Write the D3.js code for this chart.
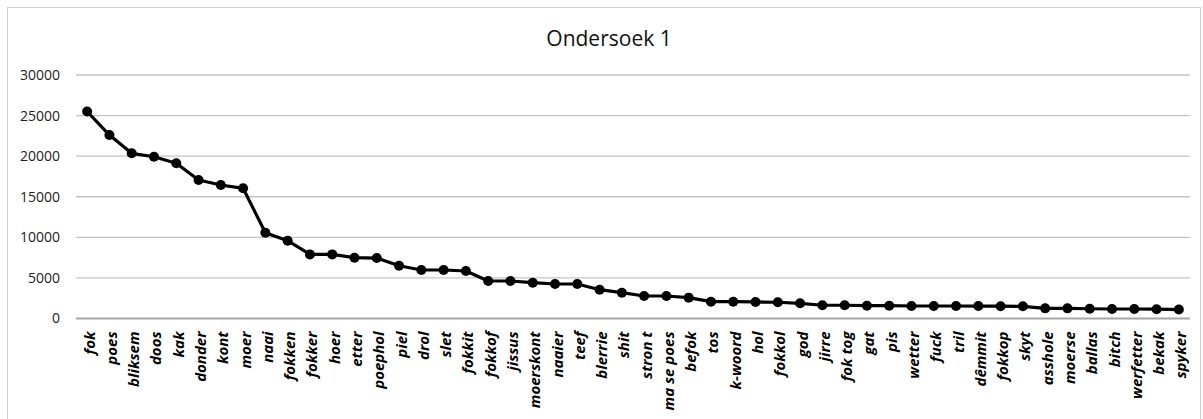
<!DOCTYPE html>
<html>
<head>
<meta charset="utf-8">
<script src="https://cdn.jsdelivr.net/npm/d3@7"></script>
<style>
  html, body { margin: 0; padding: 0; background: #fff; }
  svg { display: block; }
</style>
</head>
<body>
<svg id="chart" width="1203" height="419"></svg>
<script>
// Word frequencies, Ondersoek 1
const categories = ["fok","poes","bliksem","doos","kak","donder","kont","moer","naai","fokken",
  "fokker","hoer","etter","poephol","piel","drol","slet","fokkit","fokkof","jissus",
  "moerskont","naaier","teef","blerrie","shit","stron t","ma se poes","befok","tos","k-woord",
  "hol","fokkol","god","jirre","fok tog","gat","pis","wetter","fuck","tril",
  "dêmmit","fokkop","skyt","asshole","moerse","ballas","bitch","werfetter","bekak","spyker"];
const values = [25500,22600,20350,19930,19120,17060,16450,16040,10570,9590,
  7900,7900,7490,7450,6500,5975,5975,5850,4620,4620,
  4410,4250,4250,3550,3180,2770,2770,2570,2070,2070,
  2040,2000,1870,1630,1630,1580,1580,1540,1540,1540,
  1530,1520,1500,1250,1250,1200,1170,1170,1150,1100];
const yTicks = [0,5000,10000,15000,20000,25000,30000];
const title = "Ondersoek 1";

const svg = d3.select("#chart");
const W = 1203, H = 419;
const margin = {left: 76, right: 13, top: 75, bottom: 100.5};

// chart frame
svg.append("rect")
  .attr("x", 7.5).attr("y", 7.5)
  .attr("width", 1193).attr("height", 420)
  .attr("fill", "#fff").attr("stroke", "#d0d0d0").attr("stroke-width", 1);

const x = d3.scaleBand()
  .domain(categories)
  .range([margin.left, W - margin.right])
  .padding(0);

const y = d3.scaleLinear()
  .domain([0, 30000])
  .range([H - margin.bottom, margin.top]);

// gridlines
svg.append("g")
  .selectAll("line")
  .data(yTicks)
  .join("line")
  .attr("x1", margin.left).attr("x2", W - margin.right)
  .attr("y1", d => y(d)).attr("y2", d => y(d))
  .attr("stroke", d => d === 0 ? "#a6a6a6" : "#c4c4c4")
  .attr("stroke-width", d => d === 0 ? 2 : 1.3);

// y axis labels
const yAxis = d3.axisLeft(y).tickValues(yTicks).tickSize(0).tickPadding(16).tickFormat(d3.format("d"));
svg.append("g")
  .attr("transform", `translate(${margin.left},0)`)
  .call(yAxis)
  .call(g => g.select(".domain").remove())
  .call(g => g.selectAll("text")
    .attr("font-family", "'Open Sans', sans-serif")
    .attr("font-size", 14)
    .attr("fill", "#222"));

// x axis labels (rotated)
const xAxis = d3.axisBottom(x).tickSize(0).tickPadding(0);
svg.append("g")
  .attr("transform", `translate(0,${y(0)})`)
  .call(xAxis)
  .call(g => g.select(".domain").remove())
  .call(g => g.selectAll("text")
    .attr("font-family", "'Open Sans', sans-serif")
    .attr("font-size", 15)
    .attr("font-style", "italic")
    .attr("font-weight", "bold")
    .attr("fill", "#000")
    .attr("text-anchor", "end")
    .attr("dy", null)
    .attr("y", 0)
    .attr("transform", "translate(7.5,13) rotate(-90)"));

// line
const line = d3.line()
  .x((d, i) => x(categories[i]) + x.bandwidth() / 2)
  .y(d => y(d));

svg.append("path")
  .datum(values)
  .attr("d", line)
  .attr("fill", "none")
  .attr("stroke", "#000")
  .attr("stroke-width", 3.2)
  .attr("stroke-linejoin", "round");

svg.append("g")
  .selectAll("circle")
  .data(values)
  .join("circle")
  .attr("cx", (d, i) => x(categories[i]) + x.bandwidth() / 2)
  .attr("cy", d => y(d))
  .attr("r", 5)
  .attr("fill", "#000");

// title
svg.append("text")
  .attr("x", 609).attr("y", 46)
  .attr("text-anchor", "middle")
  .attr("font-family", "'Open Sans', sans-serif")
  .attr("font-size", 21)
  .attr("fill", "#111")
  .text(title);
</script>
</body>
</html>
